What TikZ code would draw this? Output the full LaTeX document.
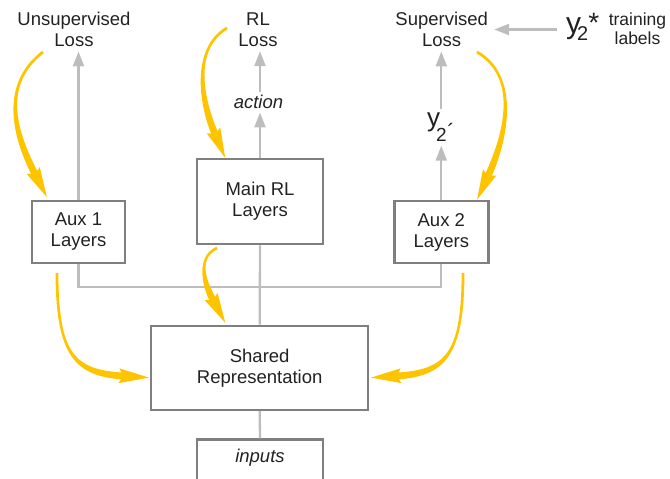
\documentclass[tikz,border=0pt]{standalone}
\usepackage{fontspec}
\setmainfont{Liberation Sans}
\usetikzlibrary{calc,arrows.meta}

\definecolor{ink}{HTML}{222222}
\definecolor{boxline}{HTML}{7F7F7F}
\definecolor{wire}{HTML}{BDBDBD}
\definecolor{gold}{HTML}{FFC400}

% Tapered gold arrow: start, control 1, control 2, base of the head
\newcommand\goldarrow[4]{%
  \coordinate (gS) at (#1);
  \coordinate (gA) at (#2);
  \coordinate (gB) at (#4);
  \coordinate (gC) at (#3);
  \coordinate (gSL) at ($(gS)!1.4pt!-90:(gA)$);
  \coordinate (gSR) at ($(gS)!1.4pt!90:(gA)$);
  \coordinate (gL) at ($(gB)!3.4pt!90:(gC)$);
  \coordinate (gR) at ($(gB)!3.4pt!-90:(gC)$);
  \coordinate (gT) at ($(gB)!-26pt!(gC)$);
  \coordinate (gK) at ($(gB)!4pt!(gC)$);
  \coordinate (gWL) at ($(gK)!7.4pt!90:(gC)$);
  \coordinate (gWR) at ($(gK)!7.4pt!-90:(gC)$);
  \fill[gold] (gSL) .. controls ($(gA)+(gSL)-(gS)$) and ($(gC)+(gL)-(gB)$) .. (gL)
     -- (gR) .. controls ($(gC)+(gR)-(gB)$) and ($(gA)+(gSR)-(gS)$) .. (gSR) -- cycle;
  \fill[gold] (gT) -- (gWL) -- (gB) -- (gWR) -- cycle;
}

\tikzset{
  txt/.style={font=\fontsize{18.5}{21}\selectfont},
  lbl/.style={txt, text=ink, align=center, inner xsep=2pt, inner ysep=4.5pt},
  box/.style={txt, draw=boxline, line width=2.5pt, fill=white, text=ink,
              align=center, inner sep=0pt},
  wireline/.style={draw=wire, line width=2.3pt},
  up/.style={wireline, -{Triangle[length=15pt,width=11pt]}},
}

\begin{document}
\begin{tikzpicture}[x=1pt,y=-1pt]
\useasboundingbox (0,0) rectangle (670,479);

% loss labels
\node[lbl] (unsup) at (74,29.5) {Unsupervised\\Loss};
\node[lbl] (rl) at (258,29.5) {RL\\Loss};
\node[lbl] (sup) at (441.7,29.5) {Supervised\\Loss};

% target labels
\node[text=ink, anchor=base west, inner sep=0pt] (ystar) at (566,34)
  {{\fontsize{30}{30}\selectfont y}\kern-4pt\raisebox{-7pt}{\fontsize{20}{20}\selectfont 2}\raisebox{1.5pt}{\fontsize{28}{28}\selectfont *}};
\node[text=ink, align=center, font=\fontsize{17.5}{19.5}\selectfont, inner sep=0pt] (train) at (637.5,28.5) {training\\labels};

% layer boxes
\node[box, minimum width=93pt, minimum height=62pt] (aux1) at (78.5,232) {Aux 1\\Layers};
\node[box, minimum width=126pt, minimum height=85pt] (main) at (260,201.5) {Main RL\\Layers};
\node[box, minimum width=94pt, minimum height=62pt] (aux2) at (441.3,232) {Aux 2\\Layers};
\node[box, minimum width=217pt, minimum height=84pt] (shared) at (259.7,367.8) {Shared\\Representation};
\node[box, minimum width=126pt, minimum height=80pt, anchor=north] (inputbox) at (260,438.3) {};
\node[lbl, font=\fontsize{18.5}{21}\selectfont\itshape] (inputs) at (260,458) {inputs};

% outputs of the heads
\node[lbl, font=\fontsize{18.5}{21}\selectfont\itshape, inner ysep=3.5pt] (action) at (258.5,102) {action};
\node[text=ink, anchor=base west, inner xsep=0pt, inner ysep=4pt] (y2p) at (427,126.5)
  {{\fontsize{26}{26}\selectfont y}\kern-4pt\raisebox{-15pt}{\fontsize{19}{19}\selectfont 2}\kern0.5pt\raisebox{-13pt}{\fontsize{22}{22}\selectfont ´}};

% shared trunk wiring
\coordinate (busL) at ($(aux1.south)+(0,23)$);
\coordinate (busR) at ($(aux2.south)+(0,23)$);
\draw[wireline] (aux1.south) -- (busL) -- (busR) -- (aux2.south);
\draw[wireline] (main.south) -- (shared.north);
\draw[wireline] (shared.south) -- (inputbox.north);

% forward arrows
\draw[up] (aux1.north) -- (aux1.north |- unsup.south);
\draw[up] (main.north) -- (main.north |- action.south);
\draw[up] (main.north |- action.north) -- (main.north |- rl.south);
\draw[up] (aux2.north) -- (aux2.north |- y2p.south);
\draw[up] (aux2.north |- y2p.north) -- (aux2.north |- sup.south);
\draw[up, shorten <=9pt, shorten >=4pt] (ystar.west |- sup.center) -- (sup.east);

% gradient arrows
\goldarrow{43,52}{0,85}{15,135}{35,174}
\goldarrow{227,28}{190,50}{203,106}{215,134}
\goldarrow{477,52}{525,80}{500,150}{488,176}
\goldarrow{217,248}{195,258}{206,287}{213,300}
\goldarrow{463,273}{463,355}{445,373}{397,376}
\goldarrow{57,273}{57,355}{75,373}{123,376}
\end{tikzpicture}
\end{document}
